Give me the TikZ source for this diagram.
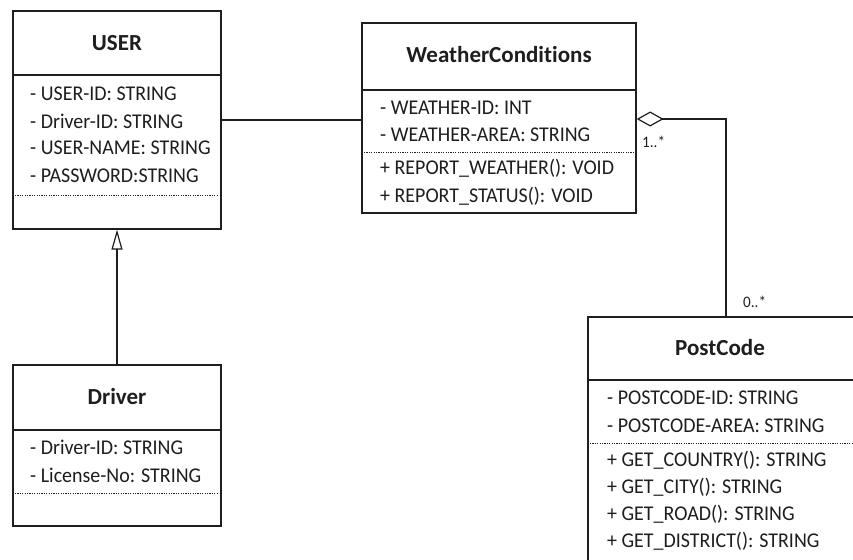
\documentclass[tikz,border=0pt]{standalone}
\usepackage{fontspec}
\setmainfont{Carlito}[Ligatures=NoCommon, FakeStretch=0.95]
\newfontfamily\headfont{Carlito}[Ligatures=NoCommon]
\usetikzlibrary{arrows.meta}
\definecolor{ink}{HTML}{1E1E1E}
\tikzset{
  classbox/.style={draw=ink, line width=1.3pt, fill=white, inner sep=0pt},
  title/.style={font=\headfont\fontsize{23}{23}\selectfont\bfseries, text=ink, inner sep=0pt},
  member/.style={font=\fontsize{21}{21}\selectfont, text=ink, anchor=west, inner sep=0pt},
  mult/.style={font=\fontsize{16}{16}\selectfont, text=ink, anchor=west, inner sep=0pt},
  rule/.style={draw=ink, line width=1.2pt},
  dotrule/.style={draw=ink, line width=1pt, dash pattern=on 1.2pt off 1.2pt},
  link/.style={draw=ink, line width=1.3pt}
}
\begin{document}
\begin{tikzpicture}[x=1pt,y=-1pt]
\useasboundingbox (0,0) rectangle (853,559);

% ---------- USER ----------
\node[classbox, minimum width=208pt, minimum height=218pt] (user) at (117,120) {};
\node[title] (userT) at (117,43) {USER};
\draw[rule] (13,75) -- (221,75);
\node[member] (u1) at (30,94)  {- USER-ID: STRING};
\node[member] (u2) at (30,121) {- Driver-ID: STRING};
\node[member] (u3) at (30,148) {- USER-NAME: STRING};
\node[member] (u4) at (30,176) {- PASSWORD:STRING};
\draw[dotrule] (15,195) -- (219,195);

% ---------- Driver ----------
\node[classbox, minimum width=208pt, minimum height=161pt] (drv) at (117,445.5) {};
\node[title] (drvT) at (117,397) {Driver};
\draw[rule] (13,430) -- (221,430);
\node[member] (d1) at (30,447) {- Driver-ID: STRING};
\node[member] (d2) at (30,475) {- License-No: STRING};
\draw[dotrule] (15,493) -- (219,493);

% ---------- WeatherConditions ----------
\node[classbox, minimum width=274pt, minimum height=190pt] (wc) at (499,118) {};
\node[title] (wcT) at (499,55) {WeatherConditions};
\draw[rule] (362,90) -- (636,90);
\node[member] (w1) at (380,108) {- WEATHER-ID: INT};
\node[member] (w2) at (380,135) {- WEATHER-AREA: STRING};
\draw[dotrule] (364,152) -- (634,152);
\node[member] (w3) at (380,168) {+ REPORT\_WEATHER(): VOID};
\node[member] (w4) at (380,196) {+ REPORT\_STATUS(): VOID};

% ---------- PostCode ----------
\node[classbox, minimum width=270pt, minimum height=250pt] (pc) at (723,442) {};
\node[title] (pcT) at (720,348) {PostCode};
\draw[rule] (588,380) -- (858,380);
\node[member] (p1) at (607,398) {- POSTCODE-ID: STRING};
\node[member] (p2) at (607,426) {- POSTCODE-AREA: STRING};
\draw[dotrule] (590,443) -- (858,443);
\node[member] (p3) at (607,460) {+ GET\_COUNTRY(): STRING};
\node[member] (p4) at (607,487) {+ GET\_CITY(): STRING};
\node[member] (p5) at (607,514) {+ GET\_ROAD(): STRING};
\node[member] (p6) at (607,541) {+ GET\_DISTRICT(): STRING};

% ---------- relations ----------
% association USER -- WeatherConditions
\draw[link] (user.east |- 0,120) -- (wc.west |- 0,120);
% generalization Driver -> USER
\draw[link, -{Triangle[open, length=20pt, width=11pt, line width=1.2pt]}]
  (drv.north) -- (user.south);
% aggregation PostCode -> WeatherConditions
\draw[link, -{Diamond[open, length=27pt, width=15pt, line width=1.2pt]}]
  ([xshift=3pt]pc.north) |- (wc.east |- 0,119);
\node[mult] (m1) at (642,142) {1..*};
\node[mult] (m2) at (743,302) {0..*};
\end{tikzpicture}
\end{document}
